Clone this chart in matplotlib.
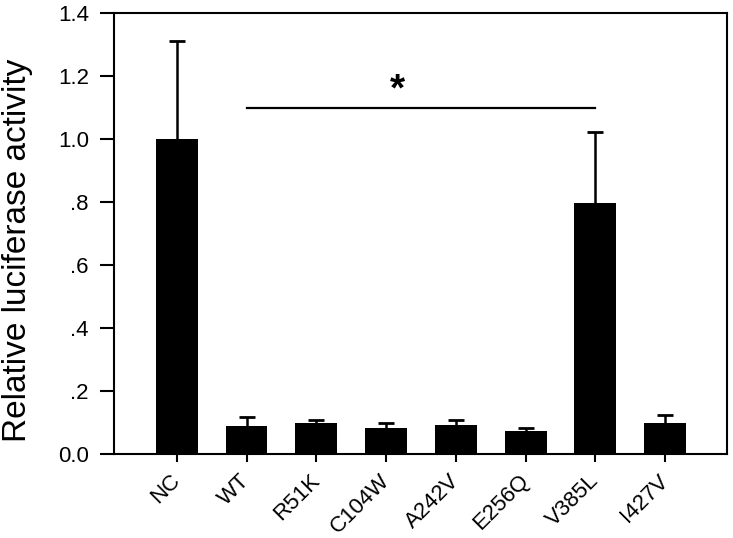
import matplotlib
matplotlib.use("Agg")
import matplotlib.pyplot as plt
import numpy as np

plt.rcParams['font.family'] = ['Liberation Sans', 'DejaVu Sans']

categories = ["NC", "WT", "R51K", "C104W", "A242V", "E256Q", "V385L", "I427V"]
values = [1.0, 0.090, 0.098, 0.084, 0.092, 0.073, 0.797, 0.100]
errors = [0.314, 0.027, 0.010, 0.014, 0.017, 0.011, 0.226, 0.025]
yticks = [0.0, 0.2, 0.4, 0.6, 0.8, 1.0, 1.2, 1.4]
ytick_labels = ["0.0", ".2", ".4", ".6", ".8", "1.0", "1.2", "1.4"]
sig_pair = ("WT", "V385L")
sig_height = 1.10
sig_text = "*"
sig_text_x = 3.16

fig = plt.figure(figsize=(7.33, 5.38), dpi=100)
ax = fig.add_axes([0.1555, 0.1561, 0.9918 - 0.1555, 0.975 - 0.1561])

x = np.arange(len(categories))
vals = np.array(values)
errs = np.array(errors)
ax.bar(x, vals, width=0.6, color="black", zorder=2)
ax.vlines(x, vals, vals + errs, color="black", lw=1.8, zorder=1)
ax.plot(x, vals + errs, ls="none", marker="_", markersize=11, markeredgewidth=2.0,
        color="black", zorder=1)

i0, i1 = categories.index(sig_pair[0]), categories.index(sig_pair[1])
ax.plot([x[i0], x[i1]], [sig_height, sig_height], color="black", lw=1.6)
ax.text(sig_text_x, sig_height - 0.002, sig_text, ha="center", va="bottom",
        fontsize=28, fontweight="bold")

ax.set_xlim(-0.9, len(categories) - 1 + 0.886)
ax.set_ylim(0, 1.4)
ax.set_yticks(yticks)
ax.set_yticklabels(ytick_labels, fontsize=16)
ax.set_xticks(x)
ax.set_xticklabels(categories, rotation=45, ha="right", va="center",
                   rotation_mode="anchor", fontsize=16)
ax.set_ylabel("Relative luciferase activity", fontsize=24)
ax.yaxis.set_label_coords(-0.132, 0.462)

for s in ax.spines.values():
    s.set_linewidth(1.5)
ax.tick_params(axis="y", direction="out", length=10, width=1.5, pad=8)
ax.tick_params(axis="x", direction="out", length=6, width=1.5, pad=11)

fig.savefig("out.png", dpi=100)
